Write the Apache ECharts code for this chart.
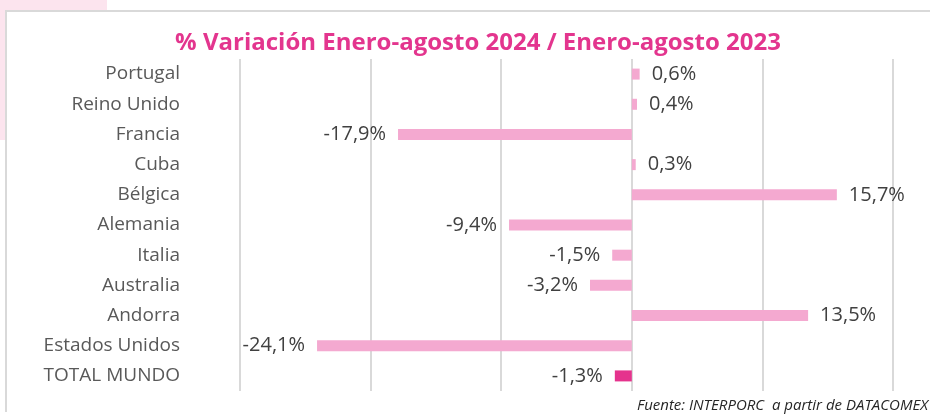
<!DOCTYPE html>
<html>
<head>
<meta charset="utf-8">
<script src="https://cdn.jsdelivr.net/npm/echarts@6/dist/echarts.min.js"></script>
<style>
  html, body { margin: 0; padding: 0; background: #ffffff; }
  #chart { width: 930px; height: 417px; }
</style>
</head>
<body>
<div id="chart"></div>
<script>
// Countries, top to bottom
const paises = ['Portugal', 'Reino Unido', 'Francia', 'Cuba', 'Bélgica', 'Alemania',
  'Italia', 'Australia', 'Andorra', 'Estados Unidos', 'TOTAL MUNDO'];
// % change Jan–Aug 2024 vs Jan–Aug 2023
const variacion = [0.6, 0.4, -17.9, 0.3, 15.7, -9.4, -1.5, -3.2, 13.5, -24.1, -1.3];
const titulo = '% Variación Enero-agosto 2024 / Enero-agosto 2023';
const fuente = 'Fuente: INTERPORC  a partir de DATACOMEX';

const FONT = '"Open Sans", sans-serif';
const rosa = '#f4a9d0';
const rosaTotal = '#e5338d';

const datos = variacion.map((v, i) => ({
  value: v,
  itemStyle: { color: paises[i] === 'TOTAL MUNDO' ? rosaTotal : rosa },
  label: { position: v < 0 ? 'left' : 'right' }
}));

const chart = echarts.init(document.getElementById('chart'), null, { renderer: 'canvas' });
chart.setOption({
  animation: false,
  backgroundColor: '#ffffff',
  title: {
    text: titulo,
    left: 473,
    textAlign: 'center',
    top: 26,
    textStyle: { color: '#e3358e', fontFamily: FONT, fontWeight: 'bold', fontSize: 24 }
  },
  graphic: [
    { type: 'rect', shape: { x: 0, y: 0, width: 107, height: 10 }, style: { fill: '#fce4ee' }, silent: true },
    { type: 'rect', shape: { x: 0, y: 0, width: 5, height: 140 }, style: { fill: '#fce4ee' }, silent: true },
    { type: 'line', shape: { x1: 6, y1: 11, x2: 930, y2: 11 }, style: { stroke: '#d9d9d9', lineWidth: 2 }, silent: true },
    { type: 'line', shape: { x1: 6, y1: 10, x2: 6, y2: 412 }, style: { stroke: '#d9d9d9', lineWidth: 2 }, silent: true },
    {
      type: 'text', left: 637, top: 398,
      style: { text: fuente, fill: '#262626', font: 'italic 15px ' + FONT }
    }
  ],
  grid: { left: 240, right: 37, top: 59, bottom: 26, containLabel: false },
  xAxis: {
    type: 'value', min: -30, max: 20, interval: 10,
    axisLine: { show: false }, axisTick: { show: false }, axisLabel: { show: false },
    splitLine: { show: true, lineStyle: { color: '#d9d9d9', width: 2 } }
  },
  yAxis: {
    type: 'category', data: paises, inverse: true,
    axisLine: { show: false }, axisTick: { show: false },
    axisLabel: { margin: 60, color: '#595959', fontFamily: FONT, fontSize: 19, padding: [3, 0, 0, 0] }
  },
  series: [{
    type: 'bar',
    data: datos,
    barWidth: 11,
    label: {
      show: true, distance: 12, color: '#404040', fontFamily: FONT, fontSize: 20,
      padding: [4, 0, 0, 0],
      formatter: p => p.value.toFixed(1).replace('.', ',') + '%'
    }
  }]
});
</script>
</body>
</html>
